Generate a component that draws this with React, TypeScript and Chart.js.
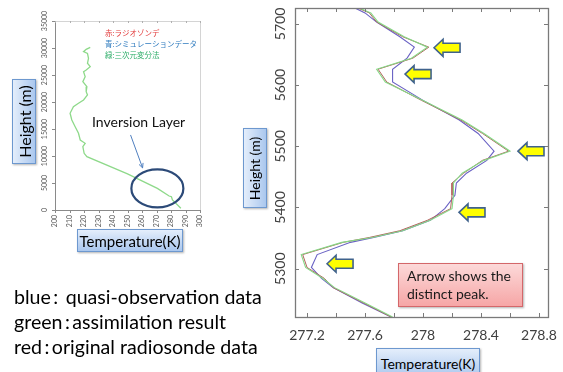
import React, { useEffect, useRef } from 'react';
import { Chart, registerables } from 'chart.js';
Chart.register(...registerables);

const FONT = 'Lato, "Noto Sans", sans-serif';
const CJK = '"Noto Sans CJK JP", "Noto Sans", sans-serif';

// ---------- left chart: full temperature profile ----------
const PROFILE_TEMP = [224.3, 221.5, 219.7, 222.4, 223.1, 222.4, 224.3, 221.5, 219.7, 220.8, 219.2, 222.0, 221.5, 222.4, 219.7, 216.2, 212.7, 210.4, 211.6, 213.9, 216.2, 217.4, 220.8, 219.2, 220.1, 222.0, 250.0, 270.6, 278.7, 280.3, 281.0, 286.8];
const PROFILE_HEIGHT = [30130, 29760, 29320, 29010, 28090, 27170, 26540, 25930, 25610, 24690, 23760, 22840, 21910, 21300, 20370, 19760, 19140, 17910, 16670, 15430, 14200, 12960, 12350, 11730, 10500, 9870, 6700, 4010, 2590, 2460, 1850, 310];
const PROFILE_X_TICKS = [200, 210, 220, 230, 240, 250, 260, 270, 280, 290, 300];
const PROFILE_Y_TICKS = [0, 5000, 10000, 15000, 20000, 25000, 30000, 35000];
const LEGEND_JP = ['赤:ラジオゾンデ', '青:シミュレーションデータ', '緑:三次元変分法'];
const LEGEND_JP_COLORS = ['#e23b3b', '#2f7bbf', '#2fae6a'];
// annotation anchors (data coords)
const ELLIPSE_CENTER = { t: 270.6, h: 4000 };
const POINTER_FROM = { t: 252.1, h: 13900 };
const POINTER_TO = { t: 260.4, h: 7800 };

// ---------- right chart: zoom around inversion ----------
const ZOOM_HEIGHT = [5726, 5718, 5703, 5679, 5662, 5644, 5626, 5605, 5575, 5543, 5521, 5492, 5477, 5456, 5440, 5420, 5398, 5379, 5362, 5351, 5343, 5323, 5302, 5284, 5269, 5244, 5221];
const RADIOSONDE_TEMP = [277.55, 277.63, 277.68, 277.86, 278.04, 277.93, 277.69, 277.75, 277.99, 278.26, 278.41, 278.59, 278.41, 278.28, 278.20, 278.20, 278.19, 278.03, 277.84, 277.63, 277.45, 277.17, 277.20, 277.32, 277.38, 277.59, 277.78];
const ASSIMILATION_TEMP = [277.56, 277.64, 277.69, 277.87, 278.03, 277.92, 277.68, 277.74, 278.00, 278.27, 278.42, 278.60, 278.42, 278.27, 278.21, 278.21, 278.20, 278.05, 277.86, 277.65, 277.44, 277.16, 277.19, 277.31, 277.39, 277.60, 277.79];
const QUASI_OBS_TEMP = [277.53, 277.60, 277.68, 277.84, 277.94, 277.89, 277.79, 277.79, 278.00, 278.25, 278.38, 278.49, 278.44, 278.30, 278.23, 278.22, 278.15, 278.05, 277.86, 277.66, 277.50, 277.27, 277.23, 277.30, 277.38, 277.58, 277.78];
const ZOOM_X_TICKS = [277.2, 277.4, 277.6, 277.8, 278.0, 278.2, 278.4, 278.6, 278.8];
const ZOOM_X_LABEL_VALUES = [277.2, 277.6, 278.0, 278.4, 278.8];
const ZOOM_X_LABELS = ['277.2', '277.6', '278', '278.4', '278.8'];
const ZOOM_Y_TICKS = [5300, 5400, 5500, 5600, 5700];
const ZOOM_Y_LABELS = ['5300', '5400', '5500', '5600', '5700'];
const PEAK_TEMP = [278.076, 277.876, 278.655, 278.248, 277.338];
const PEAK_HEIGHT = [5661, 5618, 5492, 5392, 5308];

const BOTTOM_NOTES = ['blue\u2009:\u2009 quasi-observation data', 'green\u2009:\u2009assimilation result', 'red\u2009:\u2009original radiosonde data'];

const pts = (xs: number[], ys: number[]) => ys.map((y, i) => ({ x: xs[i], y }));

const leftDecor = {
  id: 'leftDecor',
  afterDraw(chart: any) {
    const { ctx, chartArea: a, scales } = chart;
    const x = scales.x, y = scales.y;
    ctx.save();
    ctx.lineWidth = 1;
    ctx.strokeStyle = '#d4d4d4';
    ctx.strokeRect(a.left + 0.5, a.top + 0.5, a.right - a.left, a.bottom - a.top);
    ctx.strokeStyle = '#8a8a8a';
    ctx.beginPath();
    ctx.moveTo(a.left + 0.5, a.top);
    ctx.lineTo(a.left + 0.5, a.bottom + 0.5);
    ctx.lineTo(a.right, a.bottom + 0.5);
    for (const v of PROFILE_Y_TICKS) {
      const py = Math.round(y.getPixelForValue(v)) + 0.5;
      ctx.moveTo(a.left - 3, py);
      ctx.lineTo(a.left, py);
    }
    for (const v of PROFILE_X_TICKS) {
      const px = Math.round(x.getPixelForValue(v)) + 0.5;
      ctx.moveTo(px, a.bottom);
      ctx.lineTo(px, a.bottom + 3);
    }
    ctx.stroke();
    ctx.strokeStyle = '#b0b0b0';
    ctx.beginPath();
    for (const v of PROFILE_X_TICKS) {
      const px = Math.round(x.getPixelForValue(v)) + 0.5;
      ctx.moveTo(px, a.top);
      ctx.lineTo(px, a.top + 2);
    }
    ctx.stroke();
    ctx.fillStyle = '#5a5a5a';
    ctx.font = `7px ${FONT}`;
    for (const v of PROFILE_Y_TICKS) {
      ctx.save();
      ctx.translate(45, y.getPixelForValue(v));
      ctx.rotate(-Math.PI / 2);
      ctx.textAlign = 'center';
      ctx.textBaseline = 'middle';
      ctx.fillText(String(v), 0, 0);
      ctx.restore();
    }
    for (const v of PROFILE_X_TICKS) {
      ctx.save();
      ctx.translate(x.getPixelForValue(v), a.bottom + 5);
      ctx.rotate(-Math.PI / 2);
      ctx.textAlign = 'right';
      ctx.textBaseline = 'middle';
      ctx.fillText(String(v), 0, 0);
      ctx.restore();
    }
    ctx.font = `7.5px ${CJK}`;
    ctx.textAlign = 'left';
    ctx.textBaseline = 'middle';
    LEGEND_JP.forEach((t, i) => {
      ctx.fillStyle = LEGEND_JP_COLORS[i];
      ctx.fillText(t, 105, 33 + i * 11);
    });
    const cx = x.getPixelForValue(ELLIPSE_CENTER.t);
    const cy = y.getPixelForValue(ELLIPSE_CENTER.h);
    ctx.beginPath();
    ctx.ellipse(cx, cy, 26, 19, 0, 0, Math.PI * 2);
    ctx.strokeStyle = '#2c4a78';
    ctx.lineWidth = 2.2;
    ctx.stroke();
    const x0 = x.getPixelForValue(POINTER_FROM.t), y0 = y.getPixelForValue(POINTER_FROM.h);
    const x1 = x.getPixelForValue(POINTER_TO.t), y1 = y.getPixelForValue(POINTER_TO.h);
    const ang = Math.atan2(y1 - y0, x1 - x0);
    ctx.strokeStyle = '#4f7fbf';
    ctx.lineWidth = 1;
    ctx.beginPath();
    ctx.moveTo(x0, y0);
    ctx.lineTo(x1, y1);
    ctx.moveTo(x1 - 5 * Math.cos(ang - 0.45), y1 - 5 * Math.sin(ang - 0.45));
    ctx.lineTo(x1, y1);
    ctx.lineTo(x1 - 5 * Math.cos(ang + 0.45), y1 - 5 * Math.sin(ang + 0.45));
    ctx.stroke();
    ctx.restore();
  },
};

const rightDecor = {
  id: 'rightDecor',
  afterDraw(chart: any) {
    const { ctx, chartArea: a, scales } = chart;
    const x = scales.x, y = scales.y;
    ctx.save();
    ctx.strokeStyle = '#7a7a7a';
    ctx.lineWidth = 1.3;
    ctx.strokeRect(a.left + 0.5, a.top + 0.5, a.right - a.left, a.bottom - a.top);
    ctx.lineWidth = 1;
    ctx.beginPath();
    for (const v of ZOOM_X_TICKS) {
      const px = Math.round(x.getPixelForValue(v)) + 0.5;
      ctx.moveTo(px, a.bottom);
      ctx.lineTo(px, a.bottom - 4);
      ctx.moveTo(px, a.top);
      ctx.lineTo(px, a.top + 4);
    }
    for (const v of ZOOM_Y_TICKS) {
      const py = Math.round(y.getPixelForValue(v)) + 0.5;
      ctx.moveTo(a.left, py);
      ctx.lineTo(a.left + 4, py);
      ctx.moveTo(a.right, py);
      ctx.lineTo(a.right - 4, py);
    }
    ctx.stroke();
    ctx.fillStyle = '#404040';
    ctx.font = `14px ${FONT}`;
    ctx.textBaseline = 'middle';
    ctx.textAlign = 'center';
    ZOOM_X_LABEL_VALUES.forEach((v, i) => {
      ctx.fillText(ZOOM_X_LABELS[i], x.getPixelForValue(v), a.bottom + 18);
    });
    ZOOM_Y_TICKS.forEach((v, i) => {
      ctx.save();
      ctx.translate(30, y.getPixelForValue(v));
      ctx.rotate(-Math.PI / 2);
      ctx.fillText(ZOOM_Y_LABELS[i], 0, 0);
      ctx.restore();
    });
    PEAK_TEMP.forEach((t, i) => {
      const px = x.getPixelForValue(t);
      const py = y.getPixelForValue(PEAK_HEIGHT[i]);
      ctx.beginPath();
      ctx.moveTo(px, py);
      ctx.lineTo(px + 9, py - 8.5);
      ctx.lineTo(px + 9, py - 4.5);
      ctx.lineTo(px + 26, py - 4.5);
      ctx.lineTo(px + 26, py + 4.5);
      ctx.lineTo(px + 9, py + 4.5);
      ctx.lineTo(px + 9, py + 8.5);
      ctx.closePath();
      ctx.fillStyle = '#ffff00';
      ctx.fill();
      ctx.strokeStyle = '#3f628c';
      ctx.lineWidth = 1.6;
      ctx.lineJoin = 'miter';
      ctx.stroke();
    });
    ctx.restore();
  },
};

function axisOpts(min: number, max: number, fitKey: 'width' | 'height', size: number) {
  return {
    type: 'linear' as const,
    min,
    max,
    ticks: { display: false },
    grid: { display: false },
    border: { display: false },
    afterFit: (s: any) => {
      s[fitKey] = size;
    },
  };
}

function LeftChart() {
  const ref = useRef<HTMLCanvasElement>(null);
  useEffect(() => {
    const chart = new Chart(ref.current!, {
      type: 'scatter',
      data: {
        datasets: [
          {
            data: pts(PROFILE_TEMP, PROFILE_HEIGHT),
            showLine: true,
            borderColor: '#8ed98a',
            borderWidth: 1.3,
            pointRadius: 0,
            tension: 0,
          },
        ],
      },
      options: {
        responsive: false,
        animation: false,
        layout: { padding: { top: 21, right: 30, left: 0, bottom: 0 } },
        plugins: { legend: { display: false }, tooltip: { enabled: false } },
        scales: {
          x: axisOpts(200, 300, 'height', 50),
          y: axisOpts(0, 35000, 'width', 55),
        },
      },
      plugins: [leftDecor],
    });
    return () => chart.destroy();
  }, []);
  return <canvas ref={ref} width={230} height={260} style={{ position: 'absolute', left: 0, top: 0 }} />;
}

function RightChart() {
  const ref = useRef<HTMLCanvasElement>(null);
  useEffect(() => {
    const line = (temps: number[], color: string, w: number) => ({
      data: pts(temps, ZOOM_HEIGHT),
      showLine: true,
      borderColor: color,
      borderWidth: w,
      pointRadius: 0,
      tension: 0,
    });
    const chart = new Chart(ref.current!, {
      type: 'scatter',
      data: {
        datasets: [
          line(ASSIMILATION_TEMP, '#86d886', 1.1),
          line(RADIOSONDE_TEMP, '#b0605a', 1),
          line(QUASI_OBS_TEMP, '#6a62c4', 1.1),
        ],
      },
      options: {
        responsive: false,
        animation: false,
        layout: { padding: { top: 8, right: 15, left: 0, bottom: 0 } },
        plugins: { legend: { display: false }, tooltip: { enabled: false } },
        scales: {
          x: axisOpts(277.117, 278.862, 'height', 28),
          y: axisOpts(5221, 5726, 'width', 45),
        },
      },
      plugins: [rightDecor],
    });
    return () => chart.destroy();
  }, []);
  return <canvas ref={ref} width={313} height={345} style={{ position: 'absolute', left: 250, top: 0 }} />;
}

function LabelBox(props: { left: number; top: number; width: number; height: number; text: string; size: number; vertical?: boolean }) {
  const { left, top, width, height, text, size, vertical } = props;
  return (
    <div
      style={{
        position: 'absolute',
        left,
        top,
        width,
        height,
        boxSizing: 'border-box',
        border: '1px solid #6d98cf',
        background: vertical
          ? 'linear-gradient(to right, #e4eefb, #aac7ee)'
          : 'linear-gradient(to bottom, #e4eefb, #aac7ee)',
        boxShadow: '1px 1px 2px rgba(0,0,0,0.3)',
        display: 'flex',
        alignItems: 'center',
        justifyContent: 'center',
        overflow: 'visible',
      }}
    >
      <span style={{ whiteSpace: 'nowrap', fontSize: size, color: '#000', transform: vertical ? 'rotate(-90deg)' : undefined, display: 'inline-block' }}>
        {text}
      </span>
    </div>
  );
}

export default function App() {
  return (
    <div style={{ position: 'absolute', left: 0, top: 0, width: 563, height: 372, background: '#fff', overflow: 'hidden', fontFamily: FONT }}>
      <LeftChart />
      <RightChart />
      <div style={{ position: 'absolute', left: 92, top: 113, fontSize: 14, lineHeight: '18px', color: '#111', whiteSpace: 'nowrap' }}>Inversion Layer</div>
      <LabelBox left={12} top={79} width={24} height={85} text="Height (m)" size={16} vertical />
      <LabelBox left={77} top={229} width={106} height={23} text="Temperature(K)" size={15} />
      <LabelBox left={243} top={128} width={24} height={80} text="Height (m)" size={14} vertical />
      <LabelBox left={376} top={348} width={104} height={30} text="Temperature(K)" size={14} />
      <div
        style={{
          position: 'absolute',
          left: 398,
          top: 263,
          width: 125,
          height: 44,
          boxSizing: 'border-box',
          border: '1px solid #d4676a',
          background: 'linear-gradient(to bottom, #fcd9d9, #f6a6a6)',
          boxShadow: '1px 1px 2px rgba(0,0,0,0.3)',
          padding: '3px 0 0 8px',
          fontSize: 14,
          lineHeight: '18px',
          color: '#1a1a1a',
        }}
      >
        Arrow shows the
        <br />
        distinct peak.
      </div>
      {BOTTOM_NOTES.map((t, i) => (
        <div key={i} style={{ position: 'absolute', left: 14, top: 284 + i * 25, fontSize: 19.6, lineHeight: '25px', color: '#000', whiteSpace: 'pre' }}>
          {t}
        </div>
      ))}
    </div>
  );
}
